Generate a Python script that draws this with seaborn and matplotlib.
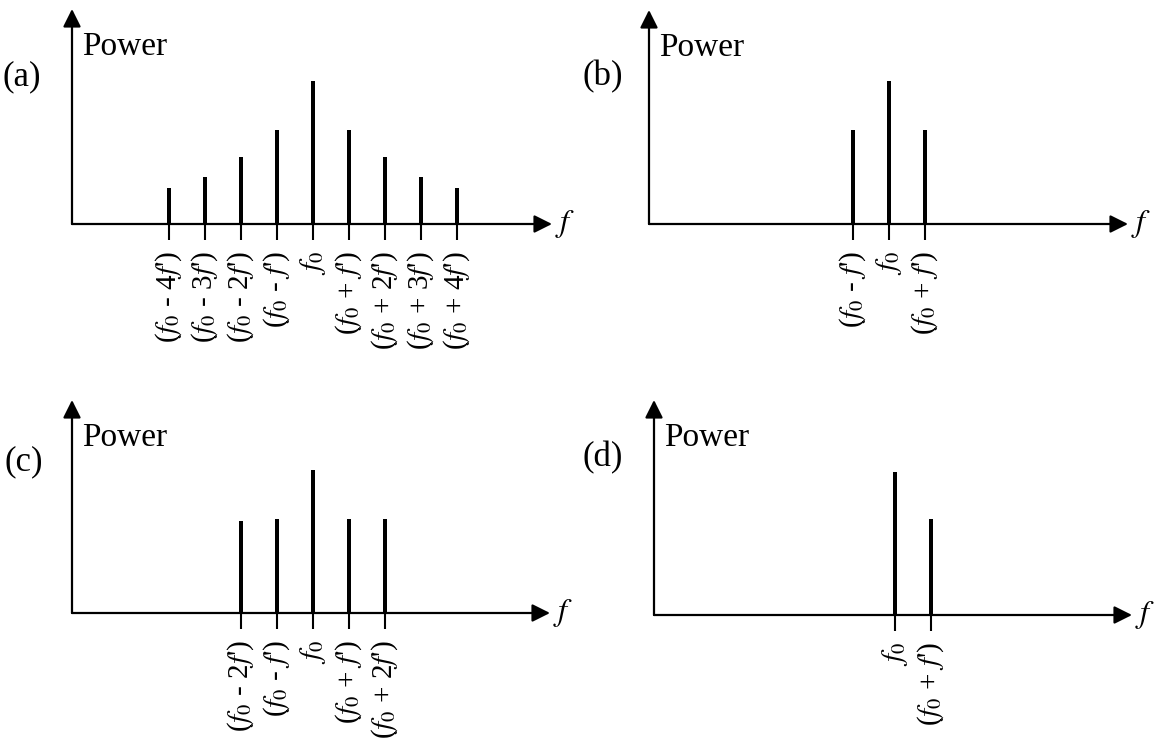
import matplotlib
matplotlib.use("Agg")
import matplotlib.pyplot as plt
import pandas as pd
import seaborn as sns

# ---------------- data ----------------
offsets_a = [-4, -3, -2, -1, 0, 1, 2, 3, 4]
power_a = [0.25, 0.33, 0.47, 0.66, 1.0, 0.66, 0.47, 0.33, 0.25]
labels_a = ["($f_0$ - 4$f$')", "($f_0$ - 3$f$')", "($f_0$ - 2$f$')", "($f_0$ - $f$')",
            "$f_0$", "($f_0$ + $f$')", "($f_0$ + 2$f$')", "($f_0$ + 3$f$')", "($f_0$ + 4$f$')"]

offsets_b = [-1, 0, 1]
power_b = [0.66, 1.0, 0.66]
labels_b = ["($f_0$ - $f$')", "$f_0$", "($f_0$ + $f$')"]

offsets_c = [-2, -1, 0, 1, 2]
power_c = [0.64, 0.66, 1.0, 0.66, 0.66]
labels_c = ["($f_0$ - 2$f$')", "($f_0$ - $f$')", "$f_0$", "($f_0$ + $f$')", "($f_0$ + 2$f$')"]

offsets_d = [0, 1]
power_d = [1.0, 0.67]
labels_d = ["$f_0$", "($f_0$ + $f$')"]

panel_names = ["(a)", "(b)", "(c)", "(d)"]
y_label = "Power"
x_label = "$f$"

# ---------------- layout (pixels) ----------------
W, H = 1154, 738
SP = 36.0     # px per f'
UNIT = 143.0  # px per unit power
# left(y-axis x), right(arrow tip x), top(arrow tip y), bottom(x-axis y), f0 x, letter x, letter y
layout = [
    (72, 552, 9, 224, 313, 2, 77),
    (649, 1128, 10, 224, 889, 583, 77),
    (72, 550, 400, 613, 313, 5, 462),
    (654, 1132, 400, 615, 895, 583, 458),
]

sns.set_theme(style="white")
plt.rcParams["font.family"] = ["Liberation Serif", "DejaVu Serif"]
plt.rcParams["mathtext.fontset"] = "stix"
plt.rcParams["text.color"] = "black"
plt.rcParams["xtick.color"] = "black"

fig = plt.figure(figsize=(W / 100, H / 100), dpi=100)
fig.patch.set_facecolor("white")

data = [(offsets_a, power_a, labels_a), (offsets_b, power_b, labels_b),
        (offsets_c, power_c, labels_c), (offsets_d, power_d, labels_d)]

for (offs, pw, labs), name, (left, right, top, bottom, f0, lx, ly) in zip(data, panel_names, layout):
    ax = fig.add_axes([left / W, 1 - bottom / H, (right - left) / W, (bottom - top) / H])
    ax.set_facecolor("none")
    df = pd.DataFrame({"offset": offs, "power": pw})
    sns.barplot(data=df, x="offset", y="power", native_scale=True, width=0.12,
                color="black", saturation=1, edgecolor="none", linewidth=0, ax=ax)
    xl = (left - f0) / SP
    xr = (right - f0) / SP
    yt = (bottom - top) / UNIT
    ax.set_xlim(xl, xr)
    ax.set_ylim(0, yt)
    for s in ax.spines.values():
        s.set_visible(False)
    ax.set_yticks([])
    ax.set_xlabel("")
    ax.set_ylabel("")
    ax.set_xticks(offs)
    ax.set_xticklabels(labs, rotation=90)
    ax.tick_params(axis="x", bottom=True, direction="out", length=11.5, width=1.5,
                   color="black", pad=8, labelsize=21, labelcolor="black")
    ap = dict(arrowstyle="-|>", color="black", lw=1.6, shrinkA=0, shrinkB=0, mutation_scale=27)
    ax.annotate("", xy=(xr, 0), xytext=(xl, 0), arrowprops=ap, annotation_clip=False)
    ax.annotate("", xy=(xl, yt), xytext=(xl, 0), arrowprops=ap, annotation_clip=False)
    ax.annotate(x_label, xy=(xr, 0), xytext=(2.5, 0), textcoords="offset points",
                ha="left", va="center", fontsize=23, color="black", annotation_clip=False)
    ax.annotate(y_label, xy=(xl, yt), xytext=(7, -33), textcoords="offset points",
                ha="left", va="baseline", fontsize=24, color="black", annotation_clip=False)
    fig.text(lx / W, 1 - ly / H, name, ha="left", va="center", fontsize=25, color="black")

fig.savefig("out.png", dpi=100, facecolor="white")
